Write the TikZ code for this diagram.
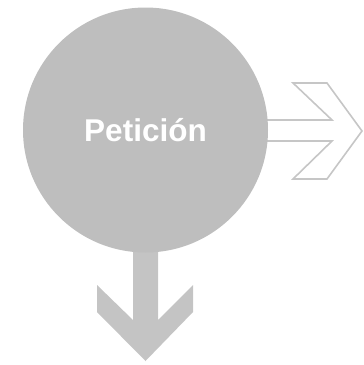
\documentclass[tikz,border=0pt]{standalone}
\usepackage{fontspec}
\setsansfont{Liberation Sans}
\usetikzlibrary{positioning,calc}
\definecolor{circgray}{RGB}{190,190,190}
\definecolor{fillgray}{RGB}{196,196,196}
\definecolor{linegray}{RGB}{198,198,198}

\begin{document}
\begin{tikzpicture}[
  x=1pt, y=-1pt,
  bubble/.style={circle, fill=circgray, minimum size=245pt, inner sep=0pt, text=white, font=\sffamily\bfseries\fontsize{31.5}{36}\selectfont},
  outarrow/.style={draw=linegray, line width=1.6pt, line join=miter, fill=white},
  downarrow/.style={fill=fillgray}
]
  \useasboundingbox (0,0) rectangle (364,365);

  % Centre of the circle
  \coordinate (ctr) at (145.5,130);

  % Outlined arrow to the right
  \draw[outarrow] ($(ctr)+(110,-10)$) -- ++(76.5,0) -- ++(-39,-37) -- ++(34,0)
    -- ++(35,48) -- ++(-35,48) -- ++(-34,0) -- ++(39,-38) -- ++(-76.5,0) -- cycle;

  % Filled arrow downwards
  \fill[downarrow] ($(ctr)+(-12.5,110)$) -- ++(0,80) -- ++(-36,-35) -- ++(0,27)
    -- ++(48.5,49) -- ++(47.5,-49) -- ++(0,-27) -- ++(-35,35) -- ++(0,-80) -- cycle;

  % Main circle
  \node[bubble] (pet) at (ctr) {Petición};
\end{tikzpicture}
\end{document}
